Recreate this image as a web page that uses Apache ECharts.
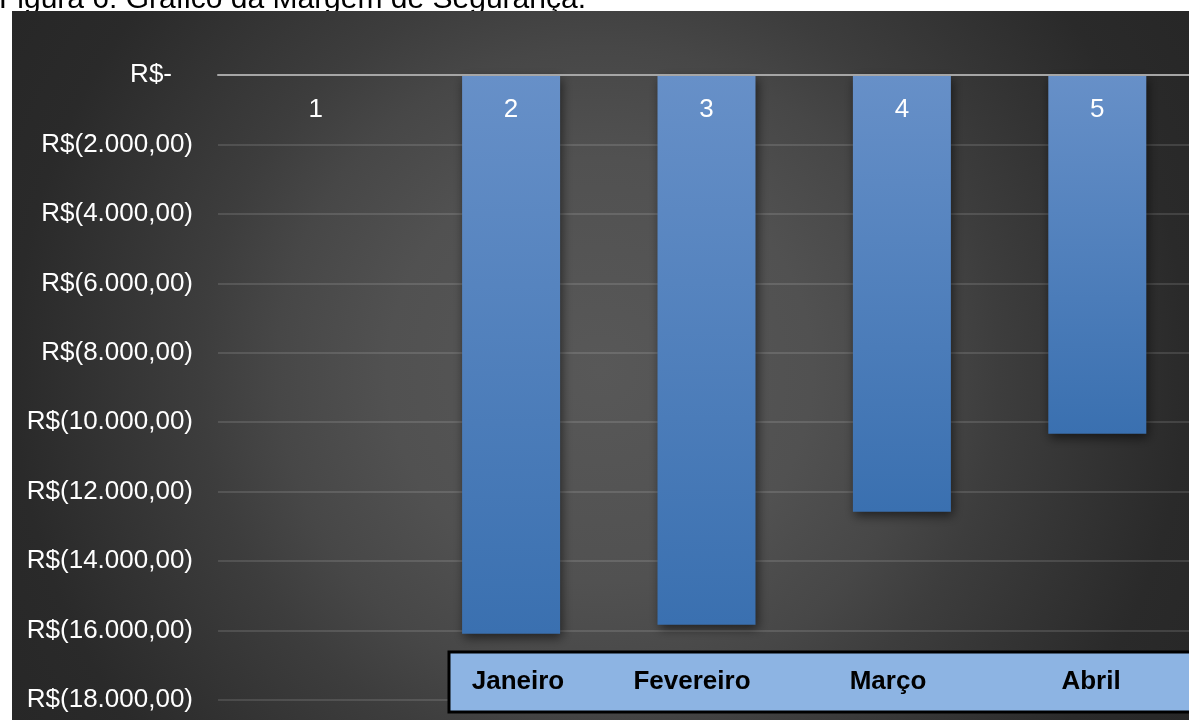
<!DOCTYPE html>
<html>
<head>
<meta charset="utf-8">
<script src="https://cdn.jsdelivr.net/npm/echarts@6/dist/echarts.min.js"></script>
<style>
  html, body { margin: 0; padding: 0; background: #fff; overflow: hidden; }
  #chart { width: 1189px; height: 720px; }
</style>
</head>
<body>
<div id="chart"></div>
<script>
// data
const categories = ['1', '2', '3', '4', '5'];
const margem = [0, -16090, -15830, -12580, -10330];
const months = ['Janeiro', 'Fevereiro', 'Março', 'Abril'];
const monthCenters = [518, 692, 888, 1091];
const titleText = 'Figura 6: Gráfico da Margem de Segurança.';

const FONT = 'Arial, "Liberation Sans", sans-serif';

const chart = echarts.init(document.getElementById('chart'));

function moneyLabel(value) {
  if (value === 0) return '{z|R$-}';
  const n = Math.abs(value).toLocaleString('pt-BR', { minimumFractionDigits: 2 });
  return 'R$(' + n + ')';
}

// dark radial backdrop, lightest a bit left of centre
const backdrop = new echarts.graphic.RadialGradient(600, 370, 850, [
  { offset: 0, color: '#585858' },
  { offset: 0.25, color: '#515151' },
  { offset: 0.38, color: '#474747' },
  { offset: 0.47, color: '#3d3d3d' },
  { offset: 0.69, color: '#2a2a2a' },
  { offset: 1, color: '#222222' }
], true);

const option = {
  backgroundColor: '#ffffff',
  animation: false,
  graphic: [
    {
      type: 'text',
      z: -20,
      left: -1,
      top: -15,
      style: { text: titleText, fill: '#000', font: '30px ' + FONT }
    },
    {
      type: 'rect',
      z: -10,
      shape: { x: 12, y: 11, width: 1177, height: 709 },
      style: { fill: backdrop }
    },
    {
      type: 'group',
      z: 20,
      children: [
        {
          type: 'rect',
          z: 20,
          shape: { x: 449, y: 652, width: 750, height: 60 },
          style: { fill: '#8db4e3', stroke: '#000', lineWidth: 3 }
        }
      ].concat(months.map((m, i) => ({
        type: 'text',
        z: 21,
        x: monthCenters[i],
        y: 682,
        style: {
          text: m, fill: '#000', font: 'bold 26px ' + FONT,
          align: 'center', verticalAlign: 'middle'
        }
      })))
    }
  ],
  grid: {
    left: 218, right: -6, top: 75, bottom: 20,
    containLabel: false,
    outerBoundsMode: 'none'
  },
  xAxis: {
    type: 'category',
    data: categories,
    position: 'top',
    z: 10,
    axisLine: { lineStyle: { color: '#a6a6a6', width: 2 } },
    axisTick: { show: false },
    axisLabel: { inside: true, color: '#fff', fontSize: 26, fontFamily: FONT, margin: 22 }
  },
  yAxis: {
    type: 'value',
    min: -18000,
    max: 0,
    interval: 2000,
    axisLine: { show: false },
    axisTick: { show: false },
    splitLine: { lineStyle: { color: 'rgba(255,255,255,0.12)', width: 2 } },
    axisLabel: {
      color: '#fff',
      fontSize: 26,
      fontFamily: FONT,
      margin: 25,
      formatter: moneyLabel,
      rich: { z: { color: '#fff', fontSize: 26, fontFamily: FONT, padding: [0, 21, 0, 0] } }
    }
  },
  series: [
    {
      type: 'bar',
      data: margem,
      barWidth: 98,
      itemStyle: {
        color: new echarts.graphic.LinearGradient(0, 0, 0, 1, [
          { offset: 0, color: '#6790c8' },
          { offset: 1, color: '#3a70b0' }
        ]),
        shadowBlur: 10,
        shadowColor: 'rgba(0,0,0,0.55)',
        shadowOffsetX: 2,
        shadowOffsetY: 4
      }
    }
  ]
};

chart.setOption(option);
</script>
</body>
</html>
